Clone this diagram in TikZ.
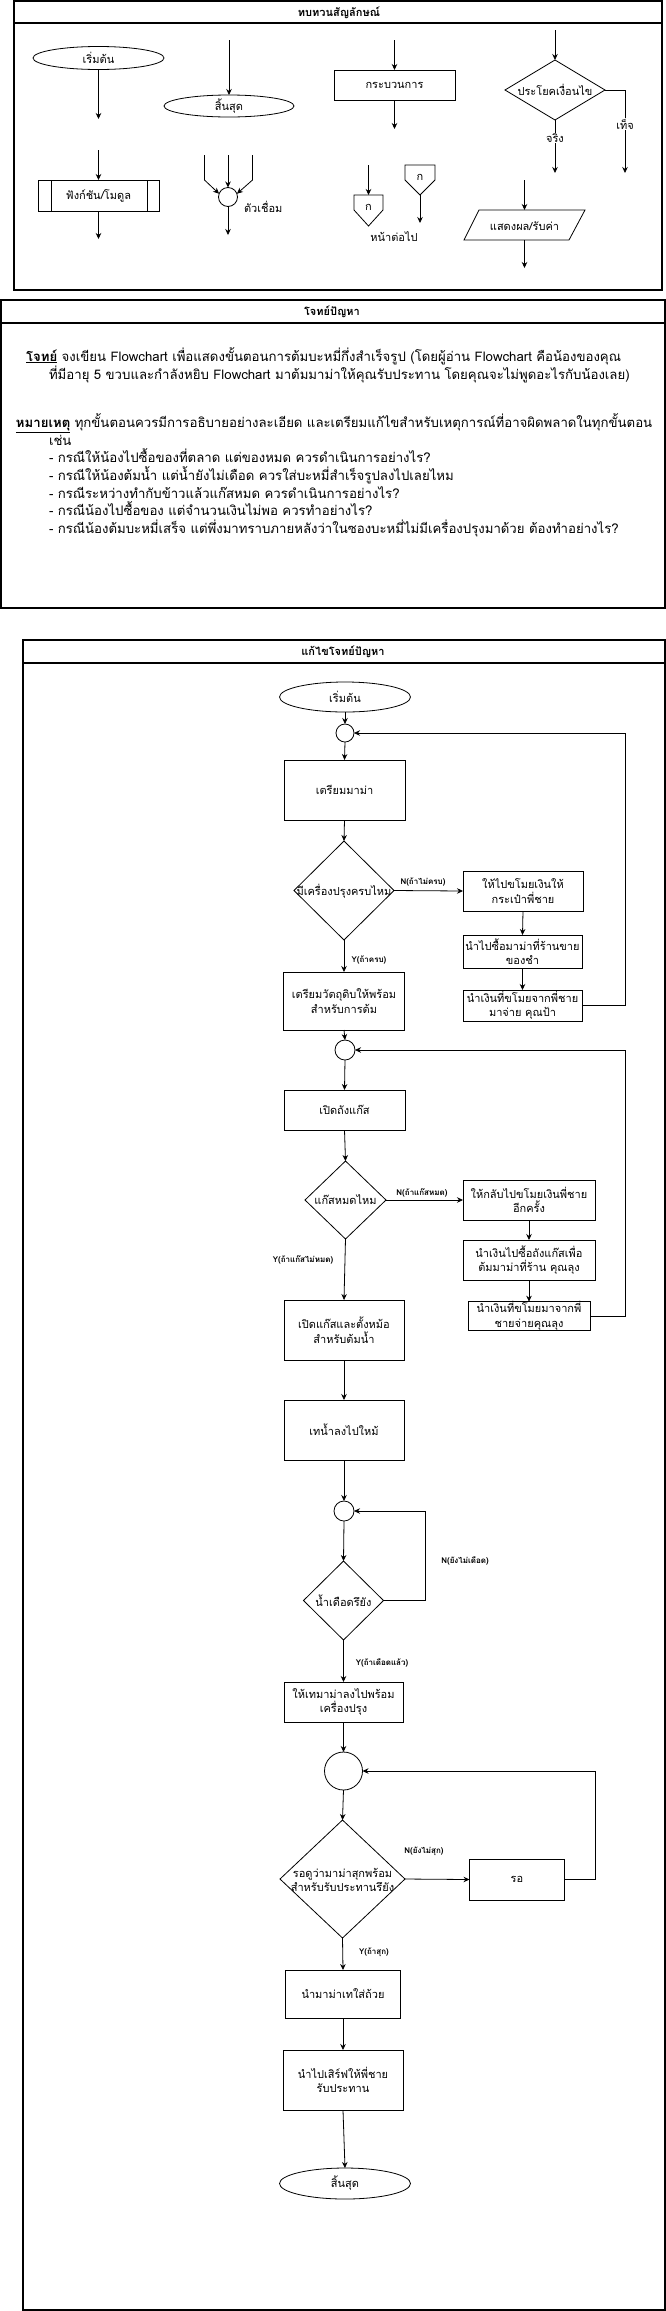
\documentclass[tikz,border=0pt]{standalone}
\usepackage{fontspec}
\setmainfont[Script=Thai]{Loma}
\usetikzlibrary{arrows.meta,shapes.geometric}
\newcommand\fnd{\fontsize{11}{14.5}\selectfont}
\newcommand\flb{\fontsize{8}{10}\selectfont\bfseries}
\newcommand\fti{\fontsize{11}{14}\selectfont\bfseries}
\newcommand\fbd{\fontsize{13.2}{16}\selectfont}
\begin{document}
\begin{tikzpicture}[x=1pt,y=-1pt,
  every node/.style={inner sep=0pt,outer sep=0pt},
  arr/.style={line width=0.8pt,-{Stealth[length=6pt,width=5.5pt]}},
  ln/.style={line width=0.8pt},
  procbox/.style={draw,line width=0.8pt,rectangle,align=center,font=\fnd},
  termnode/.style={draw,line width=0.8pt,ellipse,font=\fnd},
  decnode/.style={draw,line width=0.8pt,diamond},
  connode/.style={draw,line width=0.8pt,circle},
  dectext/.style={align=center,font=\fnd},
  lbl/.style={font=\flb},
  sect/.style={draw,line width=1.1pt},
  bodytext/.style={anchor=base west,font=\fbd}
]
\useasboundingbox (0,0) rectangle (666,2311);
\fill[white] (0,0) rectangle (666,2311);

% ================= Section 1 =================
\draw[sect] (14,1) rectangle (662,290);
\draw[sect] (14,23) -- (662,23);
\node[font=\fti] (t1) at (339,13) {ทบทวนสัญลักษณ์};

% start
\node[termnode,minimum width=131pt,minimum height=23pt] (ys) at (98.5,58) {เริ่มต้น};
\coordinate (ysa) at (98.5,119);
\draw[arr] (ys.south) -- (ysa);
% end
\coordinate (yea) at (229,40);
\node[termnode,minimum width=130pt,minimum height=22pt] (ye) at (229,106) {สิ้นสุด};
\draw[arr] (yea) -- (ye.north);
% function
\coordinate (yfa) at (98.5,150);
\coordinate (yfb) at (98.5,239);
\node[procbox,minimum width=121pt,minimum height=31pt] (yf) at (98.5,195.5) {ฟังก์ชัน/โมดูล};
\draw[ln] (51,180) -- (51,211);
\draw[ln] (147,180) -- (147,211);
\draw[arr] (yfa) -- (yf.north);
\draw[arr] (yf.south) -- (yfb);
% connector
\node[connode,minimum size=19pt] (yc) at (228,197) {};
\coordinate (yc1) at (228,155);
\coordinate (yc2) at (204.5,155);
\coordinate (yc3) at (252.5,155);
\coordinate (yc4) at (228,235);
\draw[arr] (yc1) -- (yc.north);
\draw[arr] (yc2) -- (204.5,180) -- (yc.160);
\draw[arr] (yc3) -- (252.5,180) -- (yc.20);
\draw[arr] (yc.south) -- (yc4);
\node[font=\fnd,anchor=west] (ycl) at (244,207) {ตัวเชื่อม};
% process
\coordinate (ypa) at (394.5,40);
\coordinate (ypb) at (394.5,129);
\node[procbox,minimum width=121pt,minimum height=30pt] (yp) at (394.5,85) {กระบวนการ};
\draw[arr] (ypa) -- (yp.north);
\draw[arr] (yp.south) -- (ypb);
% off-page connectors
\coordinate (yo1a) at (368.5,165);
\draw[ln] (354,195) -- (383,195) -- (383,210) -- (368.5,226) -- (354,210) -- cycle;
\node[font=\fnd] (yo1) at (368.5,207) {ก};
\draw[arr] (yo1a) -- (368.5,195);
\draw[ln] (405,165) -- (435,165) -- (435,180) -- (420,195) -- (405,180) -- cycle;
\node[font=\fnd] (yo2) at (420,177) {ก};
\coordinate (yo2b) at (420,223);
\draw[arr] (420,195) -- (yo2b);
\node[font=\fnd] (yol) at (394,237) {หน้าต่อไป};
% decision
\coordinate (yda) at (555,30);
\node[decnode,minimum width=100pt,minimum height=60pt] (yd) at (555,90) {};
\node[dectext] (ydt) at (yd) {ประโยคเงื่อนไข};
\draw[arr] (yda) -- (yd.north);
\coordinate (ydb) at (555,173);
\coordinate (ydc) at (625,173);
\draw[arr] (yd.south) -- (ydb);
\draw[arr] (yd.east) -- (625,90) -- (ydc);
\node[font=\fnd,fill=white,inner sep=1pt] (ydy) at (555,138) {จริง};
\node[font=\fnd,fill=white,inner sep=1pt] (ydn) at (625,124) {เท็จ};
% io
\coordinate (yia) at (524.5,180);
\coordinate (yib) at (524.5,268);
\draw[ln] (479,210) -- (585,210) -- (569,240) -- (464,240) -- cycle;
\node[font=\fnd] (yi) at (524.5,226) {แสดงผล/รับค่า};
\draw[arr] (yia) -- (524.5,210);
\draw[arr] (524.5,240) -- (yib);

% ================= Section 2 =================
\draw[sect] (1,300) rectangle (665,608);
\draw[sect] (1,323) -- (665,323);
\node[font=\fti] (t2) at (332,312) {โจทย์ปัญหา};
\node[bodytext] (p1) at (26,361) {\underline{\textbf{โจทย์}} จงเขียน Flowchart เพื่อแสดงขั้นตอนการต้มบะหมี่กึ่งสำเร็จรูป (โดยผู้อ่าน Flowchart คือน้องของคุณ};
\node[bodytext] (p2) at (49,379) {ที่มีอายุ 5 ขวบและกำลังหยิบ Flowchart มาต้มมาม่าให้คุณรับประทาน โดยคุณจะไม่พูดอะไรกับน้องเลย)};
\node[bodytext] (p3) at (16,427) {\underline{\textbf{หมายเหตุ}} ทุกขั้นตอนควรมีการอธิบายอย่างละเอียด และเตรียมแก้ไขสำหรับเหตุการณ์ที่อาจผิดพลาดในทุกขั้นตอน};
\node[bodytext] (p4) at (49,445) {เช่น};
\node[bodytext] (p5) at (49,462.5) {- กรณีให้น้องไปซื้อของที่ตลาด แต่ของหมด ควรดำเนินการอย่างไร?};
\node[bodytext] (p6) at (49,480.5) {- กรณีให้น้องต้มน้ำ แต่น้ำยังไม่เดือด ควรใส่บะหมี่สำเร็จรูปลงไปเลยไหม};
\node[bodytext] (p7) at (49,498) {- กรณีระหว่างทำกับข้าวแล้วแก๊สหมด ควรดำเนินการอย่างไร?};
\node[bodytext] (p8) at (49,515.5) {- กรณีน้องไปซื้อของ แต่จำนวนเงินไม่พอ ควรทำอย่างไร?};
\node[bodytext] (p9) at (49,533) {- กรณีน้องต้มบะหมี่เสร็จ แต่พึ่งมาทราบภายหลังว่าในซองบะหมี่ไม่มีเครื่องปรุงมาด้วย ต้องทำอย่างไร?};

% ================= Section 3 =================
\draw[sect] (23,640) rectangle (665,2310);
\draw[sect] (23,663) -- (665,663);
\node[font=\fti] (t3) at (343,652) {แก้ไขโจทย์ปัญหา};

\node[termnode,minimum width=131pt,minimum height=30pt] (s) at (345,697) {เริ่มต้น};
\node[connode,minimum size=18pt] (c1) at (345,733) {};
\node[procbox,minimum width=121pt,minimum height=60pt] (b1) at (344.5,790) {เตรียมมาม่า};
\node[decnode,minimum width=100pt,minimum height=99pt] (d1) at (344,890.5) {};
\node[dectext] (d1t) at (344,891) {มีเครื่องปรุงครบไหม};
\node[procbox,minimum width=120pt,minimum height=40pt] (r1) at (523,891) {ให้ไปขโมยเงินให้\\กระเป๋าพี่ชาย};
\node[procbox,minimum width=119pt,minimum height=33pt] (r2) at (522.5,951.5) {นำไปซื้อมาม่าที่ร้านขาย\\ของชำ};
\node[procbox,minimum width=119pt,minimum height=31pt] (r3) at (522.5,1005.5) {นำเงินที่ขโมยจากพี่ชาย\\มาจ่าย คุณป้า};
\node[procbox,minimum width=121pt,minimum height=58pt] (b2) at (344,1001) {เตรียมวัตถุดิบให้พร้อม\\สำหรับการต้ม};
\node[connode,minimum size=20pt] (c2) at (345,1050) {};
\node[procbox,minimum width=121pt,minimum height=40pt] (b3) at (344.5,1110) {เปิดถังแก๊ส};
\node[decnode,minimum width=81pt,minimum height=78pt] (d2) at (345.5,1200) {};
\node[dectext] (d2t) at (345.5,1200) {แก๊สหมดไหม};
\node[procbox,minimum width=132pt,minimum height=40pt] (r4) at (529,1200) {ให้กลับไปขโมยเงินพี่ชาย\\อีกครั้ง};
\node[procbox,minimum width=132pt,minimum height=40pt] (r5) at (529,1260) {นำเงินไปซื้อถังแก๊สเพื่อ\\ต้มมาม่าที่ร้าน คุณลุง};
\node[procbox,minimum width=122pt,minimum height=28pt] (r6) at (529,1316) {นำเงินที่ขโมยมาจากพี่\\ชายจ่ายคุณลุง};
\node[procbox,minimum width=120pt,minimum height=60pt] (b4) at (344,1330) {เปิดแก๊สและตั้งหม้อ\\สำหรับต้มน้ำ};
\node[procbox,minimum width=120pt,minimum height=60pt] (b5) at (344,1430) {เทน้ำลงไปใหม้};
\node[connode,minimum size=20pt] (c3) at (344,1511) {};
\node[decnode,minimum width=80pt,minimum height=79pt] (d3) at (343.5,1600.5) {};
\node[dectext] (d3t) at (343.5,1601) {น้ำเดือดรึยัง};
\node[procbox,minimum width=119pt,minimum height=40pt] (b6) at (343.5,1702) {ให้เทมาม่าลงไปพร้อม\\เครื่องปรุง};
\node[connode,minimum size=38pt] (c4) at (343.5,1771) {};
\node[decnode,minimum width=125pt,minimum height=118pt] (d4) at (342.5,1879) {};
\node[dectext] (d4t) at (342.5,1880) {รอดูว่ามาม่าสุกพร้อม\\สำหรับรับประทานรึยัง};
\node[procbox,minimum width=95pt,minimum height=41pt] (rr) at (517,1879.5) {รอ};
\node[procbox,minimum width=115pt,minimum height=48pt] (b7) at (343,1994) {นำมาม่าเทใส่ถ้วย};
\node[procbox,minimum width=120pt,minimum height=60pt] (b8) at (343,2080) {นำไปเสิร์ฟให้พี่ชาย\\รับประทาน};
\node[termnode,minimum width=131pt,minimum height=31pt] (e) at (345,2183.5) {สิ้นสุด};

\coordinate (k1) at (625,733);
\coordinate (k2) at (625,1050);
\coordinate (k3) at (425,1511);
\coordinate (k4) at (595,1771);

\draw[arr] (s.south) -- (c1.north);
\draw[arr] (c1.south) -- (b1.north);
\draw[arr] (b1.south) -- (d1.north);
\draw[arr] (d1.east) -- (r1.west);
\draw[arr] (r1.south) -- (r2.north);
\draw[arr] (r2.south) -- (r3.north);
\draw[arr] (r3.east) -| (k1) -- (c1.east);
\draw[arr] (d1.south) -- (b2.north);
\draw[arr] (b2.south) -- (c2.north);
\draw[arr] (c2.south) -- (b3.north);
\draw[arr] (b3.south) -- (d2.north);
\draw[arr] (d2.east) -- (r4.west);
\draw[arr] (r4.south) -- (r5.north);
\draw[arr] (r5.south) -- (r6.north);
\draw[arr] (r6.east) -| (k2) -- (c2.east);
\draw[arr] (d2.south) -- (b4.north);
\draw[arr] (b4.south) -- (b5.north);
\draw[arr] (b5.south) -- (c3.north);
\draw[arr] (c3.south) -- (d3.north);
\draw[arr] (d3.east) -| (k3) -- (c3.east);
\draw[arr] (d3.south) -- (b6.north);
\draw[arr] (b6.south) -- (c4.north);
\draw[arr] (c4.south) -- (d4.north);
\draw[arr] (d4.east) -- (rr.west);
\draw[arr] (rr.east) -| (k4) -- (c4.east);
\draw[arr] (d4.south) -- (b7.north);
\draw[arr] (b7.south) -- (b8.north);
\draw[arr] (b8.south) -- (e.north);

\node[lbl] (l1) at (423,882) {N(ถ้าไม่ครบ)};
\node[lbl] (l2) at (369,960) {Y(ถ้าครบ)};
\node[lbl] (l3) at (422,1193) {N(ถ้าแก๊สหมด)};
\node[lbl] (l4) at (303,1260) {Y(ถ้าแก๊สไม่หมด)};
\node[lbl] (l5) at (465,1561) {N(ยังไม่เดือด)};
\node[lbl] (l6) at (382,1663) {Y(ถ้าเดือดแล้ว)};
\node[lbl] (l7) at (424,1851) {N(ยังไม่สุก)};
\node[lbl] (l8) at (374,1952) {Y(ถ้าสุก)};
\end{tikzpicture}
\end{document}
